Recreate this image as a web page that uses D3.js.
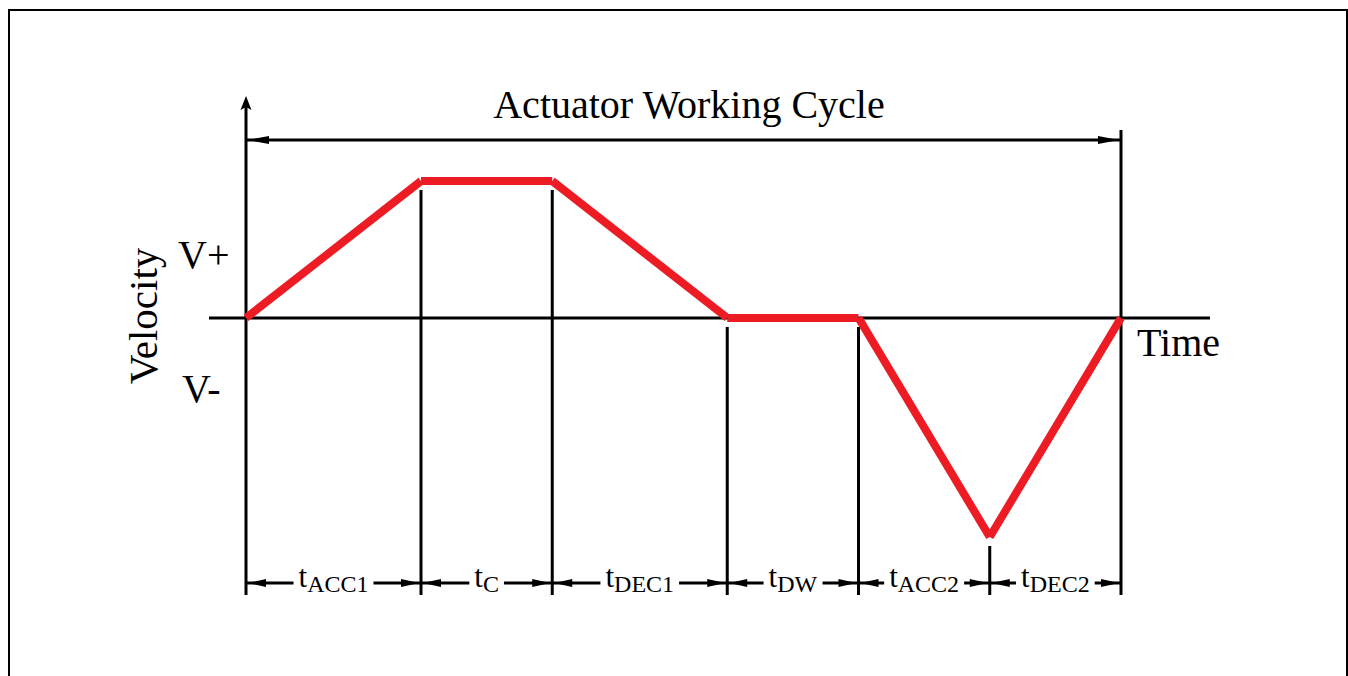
<!DOCTYPE html>
<html>
<head>
<meta charset="utf-8">
<script src="https://cdn.jsdelivr.net/npm/d3@7"></script>
<style>
  html, body { margin: 0; padding: 0; background: #fff; }
  svg { display: block; }
  text { font-family: "Liberation Serif", "Times New Roman", serif; fill: #000; }
</style>
</head>
<body>
<svg id="chart" width="1348" height="676"></svg>
<script>
// phases of the cycle, their lengths (arbitrary time units) and the velocity at each boundary
const phases = ['ACC1', 'C', 'DEC1', 'DW', 'ACC2', 'DEC2']
const durations = [4, 3, 4, 3, 3, 3]
const velocities = [0, 1, 1, 0, 0, -1.6, 0]
const yLabels = ['V+', 'V-']

const svg = d3.select("#chart")
const W = 1348, H = 676

// boundary times from durations
const times = [0]
durations.forEach(d => times.push(times[times.length - 1] + d))

const x = d3.scaleLinear().domain([0, d3.sum(durations)]).range([246, 1121])
const y = d3.scaleLinear().domain([-1.6, 1]).range([537, 181])

const axisTop = 96, axisBottom = 595
const dimTopY = 140, dimBottomY = 583

// frame
svg.append("path")
  .attr("d", `M9,${H + 5} V10 H1347 V${H + 5}`)
  .attr("fill", "none").attr("stroke", "#000").attr("stroke-width", 2)

function arrow(tipX, tipY, dir, len, hw) {
  // dir: 1 = pointing right, -1 = pointing left, 'up' = pointing up
  let pts
  if (dir === 'up') {
    pts = [[tipX, tipY], [tipX - hw, tipY + len], [tipX, tipY + len - 3], [tipX + hw, tipY + len]]
  } else {
    pts = [[tipX, tipY], [tipX - dir * len, tipY - hw], [tipX - dir * len, tipY + hw]]
  }
  svg.append("path")
    .attr("d", "M" + pts.map(p => p.join(",")).join("L") + "Z")
    .attr("fill", "#000")
}

const line = (x1, y1, x2, y2, w = 3) => svg.append("line")
  .attr("x1", x1).attr("y1", y1).attr("x2", x2).attr("y2", y2)
  .attr("stroke", "#000").attr("stroke-width", w)

// time axis (zero velocity)
line(x(0) - 37, y(0), x(times[times.length - 1]) + 89, y(0))

// velocity axis with arrow
line(x(0), axisTop + 8, x(0), axisBottom)
arrow(x(0), axisTop, 'up', 14, 5.5)

// vertical boundary lines
times.forEach((t, i) => {
  if (i === 0) return
  const top = i === times.length - 1 ? 130 : y(velocities[i]) + 9
  line(x(t), top, x(t), axisBottom)
})

// overall cycle dimension
line(x(0), dimTopY, x(times[times.length - 1]), dimTopY)
arrow(x(0) + 2, dimTopY, -1, 21, 4)
arrow(x(times[times.length - 1]) - 2, dimTopY, 1, 21, 4)

svg.append("text")
  .attr("x", 689).attr("y", 118)
  .attr("text-anchor", "middle")
  .attr("font-size", 40)
  .text("Actuator Working Cycle")

// phase dimensions along the bottom
phases.forEach((p, i) => {
  const x0 = x(times[i]), x1 = x(times[i + 1])
  const lbl = svg.append("text")
    .attr("x", (x0 + x1) / 2).attr("y", 587)
    .attr("text-anchor", "middle")
    .attr("font-size", 31)
  lbl.append("tspan").text("t")
  lbl.append("tspan").attr("font-size", 24).attr("dy", 5).text(p)
  const bb = lbl.node().getBBox()
  line(x0, dimBottomY, bb.x - 5, dimBottomY, 3)
  line(bb.x + bb.width + 5, dimBottomY, x1, dimBottomY, 3)
  arrow(x0 + 2, dimBottomY, -1, 18, 4)
  arrow(x1 - 2, dimBottomY, 1, 18, 4)
})

// velocity profile (separate segments with butt ends)
for (let i = 0; i < durations.length; i++) {
  svg.append("line")
    .attr("x1", x(times[i])).attr("y1", y(velocities[i]))
    .attr("x2", x(times[i + 1])).attr("y2", y(velocities[i + 1]))
    .attr("stroke", "#ed1c24").attr("stroke-width", 8)
    .attr("stroke-linecap", "butt")
}

// axis labels
svg.append("text")
  .attr("transform", `translate(157,316) rotate(-90)`)
  .attr("text-anchor", "middle")
  .attr("font-size", 41)
  .text("Velocity")

svg.append("text").attr("x", 178).attr("y", 268).attr("font-size", 40).text(yLabels[0])
svg.append("text").attr("x", 182).attr("y", 402).attr("font-size", 40).text(yLabels[1])

svg.append("text").attr("x", 1137).attr("y", 356).attr("font-size", 40).text("Time")
</script>
</body>
</html>
